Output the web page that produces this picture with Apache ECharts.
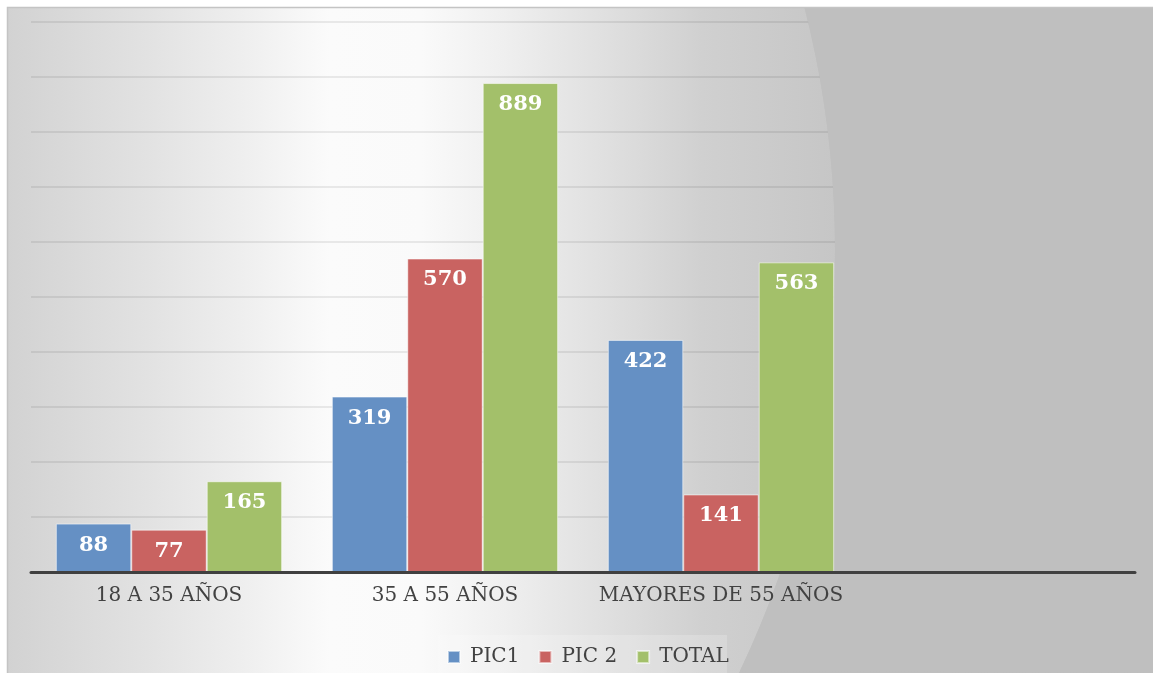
<!DOCTYPE html>
<html>
<head>
<meta charset="utf-8">
<title>PIC por grupo de edad</title>
<script src="https://cdn.jsdelivr.net/npm/echarts@6/dist/echarts.min.js"></script>
<style>
  html, body { margin: 0; padding: 0; background: #ffffff; }
  #chart { width: 1153px; height: 673px; }
</style>
</head>
<body>
<div id="chart"></div>
<script>
// Age groups (the fourth slot is left empty on the axis)
const categories = ['18 A 35 AÑOS', '35 A 55 AÑOS', 'MAYORES DE 55 AÑOS', ''];

// Values per series
const pic1  = [88, 319, 422, null];
const pic2  = [77, 570, 141, null];
const total = [165, 889, 563, null];

const seriesNames = ['PIC1', 'PIC 2', 'TOTAL'];
const seriesColors = ['#6590c4', '#c96361', '#a3c06a'];

const W = 1153, H = 673;
const FONT = '"DejaVu Serif", serif';

// Light disc that carries the panel's horizontal band
const DISC = { cx: -145, cy: 250, r: 980 };

const chart = echarts.init(document.getElementById('chart'), null, { renderer: 'canvas' });

const bandFill = {
  type: 'linear', x: 7, y: 0, x2: 835, y2: 0, global: true,
  colorStops: [
    { offset: 0.00, color: '#d2d2d2' },
    { offset: 0.17, color: '#e2e2e2' },
    { offset: 0.29, color: '#efefef' },
    { offset: 0.39, color: '#fbfbfb' },
    { offset: 0.50, color: '#fafafa' },
    { offset: 0.60, color: '#efefef' },
    { offset: 0.72, color: '#e0e0e0' },
    { offset: 0.84, color: '#d0d0d0' },
    { offset: 1.00, color: '#c6c6c6' }
  ]
};

// Flat grey area to the right of the disc edge, laid over the grid lines
function outerGreyPolygon() {
  const pts = [[W, 7]];
  for (let y = 7; y <= H; y += 4) {
    const dx = Math.sqrt(DISC.r * DISC.r - (y - DISC.cy) * (y - DISC.cy));
    pts.push([DISC.cx + dx, y]);
  }
  pts.push([W, H]);
  return pts;
}

function barSeries(name, data, color) {
  return {
    name: name,
    type: 'bar',
    z: 2,
    data: data,
    barGap: '0%',
    barCategoryGap: '18%',
    itemStyle: {
      color: color,
      borderColor: 'rgba(255,255,255,0.55)',
      borderWidth: 1
    },
    label: {
      show: true,
      position: 'insideTop',
      distance: 11,
      color: '#ffffff',
      fontFamily: FONT,
      fontWeight: 'bold',
      fontSize: 21
    },
    emphasis: { disabled: true }
  };
}

chart.setOption({
  animation: false,
  backgroundColor: 'transparent',
  graphic: [
    { type: 'rect', z: -20, shape: { x: 7, y: 7, width: W - 7, height: H - 7 }, style: { fill: '#bfbfbf' } },
    { type: 'circle', z: -19, shape: { cx: DISC.cx, cy: DISC.cy, r: DISC.r }, style: { fill: bandFill } },
    { type: 'polygon', z: 1, shape: { points: outerGreyPolygon() }, style: { fill: '#bfbfbf' } },
    // white page margins
    { type: 'rect', z: -18, shape: { x: 0, y: 0, width: W, height: 7 }, style: { fill: '#ffffff' } },
    { type: 'rect', z: -18, shape: { x: 0, y: 0, width: 7, height: H }, style: { fill: '#ffffff' } },
    // panel border
    { type: 'polyline', z: 1, shape: { points: [[7.5, H], [7.5, 7.5], [W, 7.5]] },
      style: { stroke: '#c4c4c4', lineWidth: 1.5, fill: null } },
    // legend backdrop
    { type: 'rect', z: 1, shape: { x: 438, y: 635, width: 289, height: 38 },
      style: { fill: 'rgba(255,255,255,0.2)' } }
  ],
  grid: { left: 31, right: 18, top: 22, bottom: 101, containLabel: false },
  xAxis: {
    type: 'category',
    z: 3,
    data: categories,
    axisLine: { show: true, lineStyle: { color: '#404040', width: 3 } },
    axisTick: { show: false },
    axisLabel: {
      color: '#424242',
      fontFamily: FONT,
      fontSize: 20,
      margin: 14,
      interval: 0
    },
    splitLine: { show: false }
  },
  yAxis: {
    type: 'value',
    z: 0,
    min: 0,
    max: 1000,
    interval: 100,
    axisLine: { show: false },
    axisTick: { show: false },
    axisLabel: { show: false },
    splitLine: { show: true, lineStyle: { color: 'rgba(0,0,0,0.1)', width: 1.5 } }
  },
  legend: {
    z: 4,
    data: seriesNames,
    left: 447,
    top: 647,
    padding: 0,
    itemWidth: 12,
    itemHeight: 12,
    itemGap: 19,
    icon: 'rect',
    textStyle: {
      color: '#424242',
      fontFamily: FONT,
      fontSize: 20,
      lineHeight: 20,
      padding: [0, 0, 0, 5]
    }
  },
  series: [
    barSeries(seriesNames[0], pic1, seriesColors[0]),
    barSeries(seriesNames[1], pic2, seriesColors[1]),
    barSeries(seriesNames[2], total, seriesColors[2])
  ]
});
</script>
</body>
</html>
